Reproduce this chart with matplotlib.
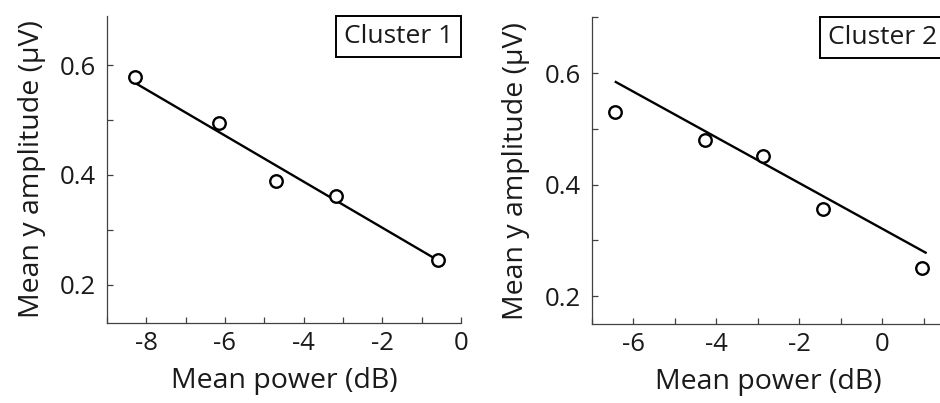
import matplotlib
matplotlib.use("Agg")
import matplotlib.pyplot as plt
from matplotlib.ticker import MultipleLocator
from matplotlib.offsetbox import AnchoredText

plt.rcParams['font.family'] = ['Open Sans', 'DejaVu Sans']
plt.rcParams['axes.unicode_minus'] = False

# cluster 1 data
c1_power = [-8.29, -6.15, -4.70, -3.17, -0.58]
c1_amp = [0.578, 0.494, 0.389, 0.362, 0.245]
c1_fit_x = [-8.24, -0.65]
c1_fit_y = [0.566, 0.247]

# cluster 2 data
c2_power = [-6.43, -4.28, -2.88, -1.42, 0.96]
c2_amp = [0.530, 0.480, 0.452, 0.356, 0.251]
c2_fit_x = [-6.42, 1.04]
c2_fit_y = [0.584, 0.278]

panels = [
    ("Cluster 1", c1_power, c1_amp, c1_fit_x, c1_fit_y, (-9, 0), (0.13, 0.69)),
    ("Cluster 2", c2_power, c2_amp, c2_fit_x, c2_fit_y, (-7, 1.5), (0.15, 0.70)),
]
positions = [
    [107 / 940, 1 - 323 / 403, 354 / 940, 307 / 403],
    [591.7 / 940, 1 - 324 / 403, 353 / 940, 306.7 / 403],
]

txt = '#1a1a1a'
fig = plt.figure(figsize=(9.4, 4.03), dpi=100)

for (name, px, py, fx, fy, xl, yl), pos in zip(panels, positions):
    ax = fig.add_axes(pos)
    ax.plot(fx, fy, '-', color='black', lw=1.7)
    ax.plot(px, py, 'o', mfc='white', mec='black', mew=1.7, ms=9)
    ax.set_xlim(xl)
    ax.set_ylim(yl)
    ax.xaxis.set_major_locator(MultipleLocator(2))
    ax.xaxis.set_minor_locator(MultipleLocator(1))
    ax.yaxis.set_major_locator(MultipleLocator(0.2))
    ax.yaxis.set_minor_locator(MultipleLocator(0.1))
    ax.tick_params(which='both', direction='in', length=4, width=0.9,
                   color='#404040', labelsize=18.5, labelcolor=txt)
    ax.tick_params(axis='x', pad=6)
    ax.tick_params(axis='y', pad=8)
    for s in ['top', 'right']:
        ax.spines[s].set_visible(False)
    for s in ['left', 'bottom']:
        ax.spines[s].set_color('#404040')
        ax.spines[s].set_linewidth(0.9)
    ax.set_xlabel('Mean power (dB)', fontsize=20.5, color=txt, labelpad=8)
    ax.set_ylabel('Mean y amplitude (μV)', fontsize=20.5, color=txt, labelpad=10)
    at = AnchoredText(name, loc='upper right', frameon=True, borderpad=0,
                      pad=0.3, prop=dict(size=19, color=txt))
    at.patch.set_boxstyle('square,pad=0')
    at.patch.set_linewidth(1.4)
    at.patch.set_edgecolor('black')
    ax.add_artist(at)

fig.savefig('out.png', dpi=100)
